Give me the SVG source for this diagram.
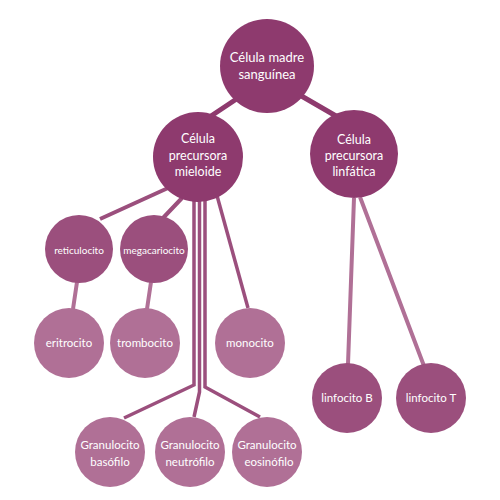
<svg xmlns="http://www.w3.org/2000/svg" width="500" height="500" viewBox="0 0 500 500">
<style>
.t{font-family:Lato,"Open Sans",sans-serif;fill:#fff;text-anchor:middle}
.a{fill:#8e3a6e}.b{fill:#9b4f7d}.c{fill:#b07096}
.l{fill:none;stroke-linecap:butt;stroke-linejoin:miter}
</style>
<rect width="500" height="500" fill="#fff"/>
<g id="connectors">
<path class="l" stroke="#8e3a6e" stroke-width="5" d="M238,98 L208,118 M298,94 L336,116"/>
<path class="l" stroke="#9b4f7d" stroke-width="4" d="M168,188 L100,219 M182,198 L163,218"/>
<path class="l" stroke="#9b4f7d" stroke-width="3.5" d="M194,198 L194,385 L124,418 M199.5,198 L199.5,392 L194,417 M205,198 L205,387 L260,417"/>
<path class="l" stroke="#9b4f7d" stroke-width="3.5" d="M216,192 L248,308"/>
<path class="l" stroke="#b07096" stroke-width="4" d="M77,282 L73,309 M151,282 L147,309"/>
<path class="l" stroke="#b07096" stroke-width="4" d="M354,198 L348,364 M360,197 L424,366"/>
</g>
<g id="n_madre"><circle class="a" cx="267" cy="66" r="47"/><text class="t" font-size="13" x="267" y="62">Célula madre</text><text class="t" font-size="13" x="267" y="79">sanguínea</text></g>
<g id="n_mieloide"><circle class="a" cx="198" cy="157" r="45"/><text class="t" font-size="12.5" x="198" y="143">Célula</text><text class="t" font-size="12.5" x="198" y="160">precursora</text><text class="t" font-size="12.5" x="198" y="176">mieloide</text></g>
<g id="n_linfatica"><circle class="a" cx="354" cy="154" r="44"/><text class="t" font-size="12.5" x="354" y="144">Célula</text><text class="t" font-size="12.5" x="354" y="160">precursora</text><text class="t" font-size="12.5" x="354" y="176">linfática</text></g>
<g id="n_reticulocito"><circle class="b" cx="79" cy="249" r="34"/><text class="t" font-size="10" x="79" y="254">reticulocito</text></g>
<g id="n_megacariocito"><circle class="b" cx="154" cy="249" r="34"/><text class="t" font-size="10" x="154" y="254">megacariocito</text></g>
<g id="n_eritrocito"><circle class="c" cx="69" cy="343" r="35"/><text class="t" font-size="11.5" x="69" y="347">eritrocito</text></g>
<g id="n_trombocito"><circle class="c" cx="145" cy="343" r="35"/><text class="t" font-size="11.5" x="145" y="347">trombocito</text></g>
<g id="n_monocito"><circle class="c" cx="250" cy="343" r="35"/><text class="t" font-size="11.5" x="250" y="347">monocito</text></g>
<g id="n_basofilo"><circle class="c" cx="110" cy="452" r="35"/><text class="t" font-size="11.5" x="110" y="449">Granulocito</text><text class="t" font-size="11.5" x="110" y="466">basófilo</text></g>
<g id="n_neutrofilo"><circle class="c" cx="190" cy="452" r="35"/><text class="t" font-size="11.5" x="190" y="449">Granulocito</text><text class="t" font-size="11.5" x="190" y="466">neutrófilo</text></g>
<g id="n_eosinofilo"><circle class="c" cx="267" cy="452" r="35"/><text class="t" font-size="11.5" x="267" y="449">Granulocito</text><text class="t" font-size="11.5" x="269" y="466">eosinófilo</text></g>
<g id="n_linfocitoB"><circle class="b" cx="347" cy="398" r="35"/><text class="t" font-size="11.5" x="347" y="402">linfocito B</text></g>
<g id="n_linfocitoT"><circle class="b" cx="431" cy="398" r="35"/><text class="t" font-size="11.5" x="431" y="402">linfocito T</text></g>
</svg>
